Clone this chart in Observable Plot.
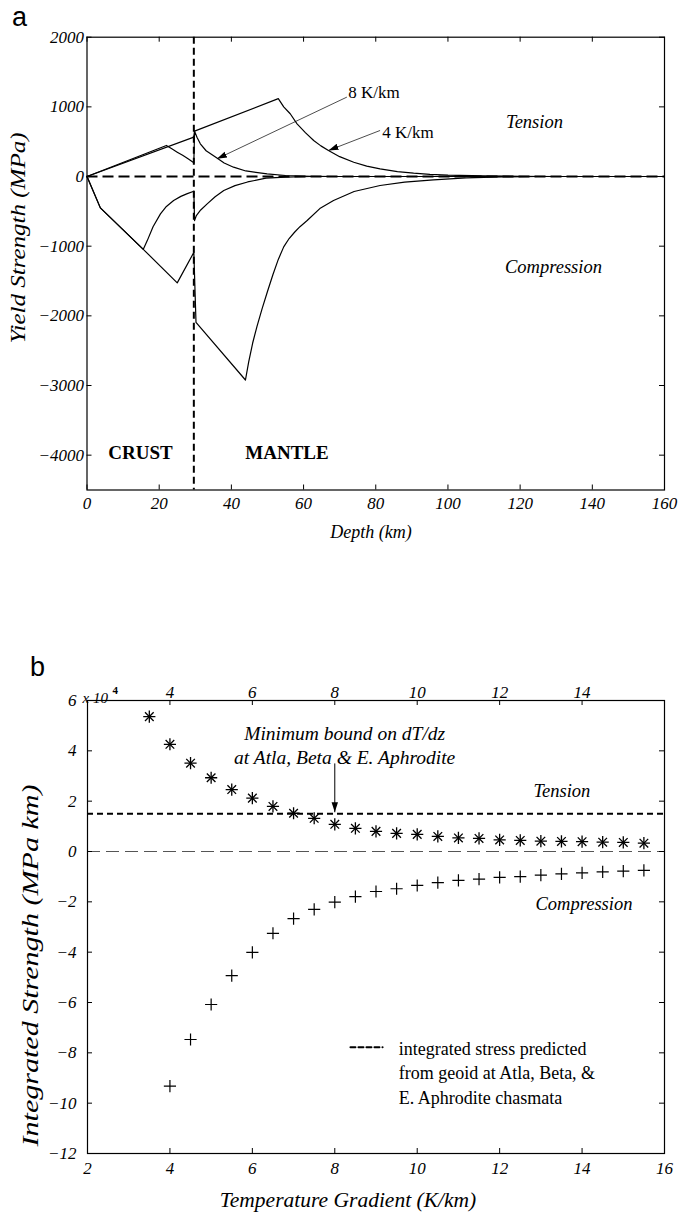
<!DOCTYPE html>
<html><head><meta charset="utf-8">
<script src="https://cdn.jsdelivr.net/npm/d3@7"></script>
<script src="https://cdn.jsdelivr.net/npm/@observablehq/plot@0.6"></script>
<style>
body{margin:0;background:#fff;}
#wrap{position:relative;width:680px;height:1216px;overflow:hidden;background:#fff;}
.panel{position:absolute;left:0;z-index:1;}
.panel svg text{font-family:"Liberation Serif","Times New Roman",serif;}
.lab{position:absolute;z-index:5;font-family:"Liberation Sans",Arial,sans-serif;font-size:27px;line-height:1;color:#000;}
</style></head><body>
<div id="wrap">
<div id="pa" class="panel" style="top:0"></div>
<div id="pb" class="panel" style="top:600px"></div>
<div class="lab" style="left:12px;top:4px">a</div>
<div class="lab" style="left:30px;top:654px">b</div>
</div>
<script>
// ---------- Panel a data ----------
const depthTicks = [0, 20, 40, 60, 80, 100, 120, 140, 160];
const strengthTicks = [-4000, -3000, -2000, -1000, 0, 1000, 2000];
const mohoDepth = 29.6;

const tension8Depth    = [0, 22, 23.5, 25, 26.5, 28, 29.6, 29.8, 30.5, 31.4, 33, 36, 38, 40.6, 44, 49.9, 55, 62, 70, 160];
const tension8Strength = [0, 446, 397, 350, 305, 255, 197, 652, 560, 470, 370, 265, 195, 134, 80, 39, 15, 4, 0, 0];

const tension4Depth    = [0, 29.6, 29.8, 53, 54.5, 56.3, 58.2, 60.5, 62.8, 64.8, 66.9, 70, 73.9, 77.5, 81.2, 86, 90.5, 95, 100, 110, 120, 130, 160];
const tension4Strength = [0, 566, 652, 1118, 1000, 901, 757, 630, 517, 440, 374, 285, 205, 150, 110, 70, 48, 32, 20, 8, 3, 0, 0];

const compression4Depth    = [0, 3.7, 15.6, 25, 29.6, 30.2, 43.9, 44.8, 45.9, 47.1, 48.5, 50, 51.5, 53, 54.5, 56, 57.5, 59, 61, 64.5, 68.3, 74, 81.2, 88, 96, 105, 115, 125, 160];
const compression4Strength = [0, -450, -1045, -1527, -1089, -2094, -2921, -2660, -2390, -2150, -1900, -1650, -1410, -1190, -1010, -890, -800, -720, -632, -460, -345, -215, -129, -80, -47, -18, -5, 0, 0];

const compression8Depth    = [0, 3.7, 15.6, 16.7, 18.3, 20.35, 22, 24, 26, 27.8, 29.6, 29.8, 30.3, 31.5, 33.3, 35.5, 37.9, 41, 44.5, 49.6, 55, 62, 160];
const compression8Strength = [0, -450, -1045, -920, -720, -536, -430, -345, -285, -245, -211, -633, -560, -480, -392, -290, -201, -130, -78, -24, -8, 0, 0];

const curveLabels = ["8 K/km", "4 K/km"];
const curveLabelDepth = [72.4, 81.8];
const curveLabelStrength = [1207, 632];
const arrowFromDepth = [72.0, 81.2];
const arrowFromStrength = [1140, 661];
const arrowToDepth = [36.0, 66.9];
const arrowToStrength = [254, 374];

const regimeLabels = ["Tension", "Compression"];
const regimeDepth = [116.1, 115.8];
const regimeStrength = [776, -1293];

const layerLabels = ["CRUST", "MANTLE"];
const layerDepth = [14.8, 55.4];
const layerStrength = [-3966, -3966];

// ---------- Panel b data ----------
const gradTicks = [2, 4, 6, 8, 10, 12, 14, 16];
const gradTopTicks = [4, 6, 8, 10, 12, 14];
const intTicks = [-12, -10, -8, -6, -4, -2, 0, 2, 4, 6];

const tensionGradient = [3.5, 4, 4.5, 5, 5.5, 6, 6.5, 7, 7.5, 8, 8.5, 9, 9.5, 10, 10.5, 11, 11.5, 12, 12.5, 13, 13.5, 14, 14.5, 15, 15.5];
const tensionIntegrated = [5.36, 4.26, 3.51, 2.93, 2.46, 2.12, 1.79, 1.52, 1.32, 1.08, 0.92, 0.80, 0.72, 0.68, 0.60, 0.54, 0.52, 0.46, 0.44, 0.41, 0.40, 0.39, 0.37, 0.36, 0.33];

const compressionGradient = [4, 4.5, 5, 5.5, 6, 6.5, 7, 7.5, 8, 8.5, 9, 9.5, 10, 10.5, 11, 11.5, 12, 12.5, 13, 13.5, 14, 14.5, 15, 15.5];
const compressionIntegrated = [-9.32, -7.47, -6.08, -4.93, -4.01, -3.25, -2.67, -2.30, -2.01, -1.79, -1.59, -1.48, -1.35, -1.24, -1.15, -1.10, -1.03, -1.00, -0.94, -0.89, -0.85, -0.81, -0.78, -0.75];

const geoidStress = [1.5];
const boundGradient = [8];
const boundArrowFrom = [3.5];
const boundArrowTo = [1.56];
const boundText = ["Minimum bound on dT/dz\nat Atla, Beta & E. Aphrodite"];
const boundTextPos = [8.24, 4.27];
const regimeLabelsB = ["Tension", "Compression"];
const regimeGradB = [12.82, 12.87];
const regimeIntB = [2.42, -2.07];
const legendDashGrad = [8.38, 9.16];
const legendDashInt = [-7.78, -7.78];
const legendText = ["integrated stress predicted\nfrom geoid at Atla, Beta, &\nE. Aphrodite chasmata"];
const legendTextPos = [9.55, -8.74];

// ---------- helpers ----------
const FONT = '"Liberation Serif", "Times New Roman", serif';
const fmt = d => d < 0 ? "\u2212" + Math.abs(d) : String(d);
const zip = (xs, ys, name) => xs.map((x, i) => ({x, y: ys[i], name}));
function filledHead(size) {
  return (color) => {
    const m = d3.create("svg:marker")
      .attr("viewBox", `${-size} ${-size/2} ${size} ${size}`)
      .attr("markerWidth", size).attr("markerHeight", size)
      .attr("markerUnits", "userSpaceOnUse")
      .attr("orient", "auto").attr("refX", 0).attr("refY", 0)
      .attr("fill", "black").attr("stroke", "none");
    m.append("path").attr("d", `M${-size},${-size*0.32}L0,0L${-size},${size*0.32}Z`);
    return m.node();
  };
}
// stretch a rotated title along its length (start-anchored)
function stretch(svg, content, len) {
  d3.select(svg).selectAll("text").filter(function(){ return this.textContent === content; })
    .attr("text-anchor", "start")
    .attr("textLength", len).attr("lengthAdjust", "spacingAndGlyphs");
}

// ---------- Panel a ----------
const aW = 680, aH = 560, aTop = 36.7, aBottom = 489.5, aLeft = 86.5, aRight = 664;
const aInnerH = aBottom - aTop, aInnerW = aRight - aLeft;
const curvesA = [
  ...zip(tension8Depth, tension8Strength, "t8"),
  ...zip(tension4Depth, tension4Strength, "t4"),
  ...zip(compression4Depth, compression4Strength, "c4"),
  ...zip(compression8Depth, compression8Strength, "c8")
];
const svgA = Plot.plot({
  width: aW, height: aH,
  marginTop: aTop, marginBottom: aH - aBottom, marginLeft: aLeft, marginRight: aW - aRight,
  x: {domain: [0, 160]},
  y: {domain: [-4500, 2000]},
  style: {fontFamily: FONT, fontSize: "17px", fontStyle: "italic", color: "black", background: "white", overflow: "visible"},
  marks: [
    Plot.line(curvesA, {x: "x", y: "y", z: "name", stroke: "black", strokeWidth: 1.2}),
    Plot.ruleY([0], {stroke: "black", strokeWidth: 2.2, strokeDasharray: "11,5"}),
    Plot.ruleX([mohoDepth], {stroke: "black", strokeWidth: 2, strokeDasharray: "7,4"}),
    Plot.link(curveLabels, {x1: (d, i) => arrowFromDepth[i], y1: (d, i) => arrowFromStrength[i], x2: (d, i) => arrowToDepth[i], y2: (d, i) => arrowToStrength[i], stroke: "black", strokeWidth: 0.7, markerEnd: filledHead(10)}),
    Plot.text(curveLabels, {x: (d, i) => curveLabelDepth[i], y: (d, i) => curveLabelStrength[i], text: d => d, textAnchor: "start", fontStyle: "normal", fontSize: 17}),
    Plot.text(regimeLabels, {x: (d, i) => regimeDepth[i], y: (d, i) => regimeStrength[i], text: d => d, textAnchor: "start", fontSize: 18.5}),
    Plot.text(layerLabels, {x: (d, i) => layerDepth[i], y: (d, i) => layerStrength[i], text: d => d, fontStyle: "normal", fontWeight: "bold", fontSize: 19}),
    Plot.frame({stroke: "black", strokeWidth: 1.2}),
    Plot.tickX(depthTicks, {x: d => d, insetTop: aInnerH - 5, stroke: "black"}),
    Plot.tickX(depthTicks, {x: d => d, insetBottom: aInnerH - 5, stroke: "black"}),
    Plot.tickY(strengthTicks, {y: d => d, insetRight: aInnerW - 5, stroke: "black"}),
    Plot.tickY(strengthTicks, {y: d => d, insetLeft: aInnerW - 5, stroke: "black"}),
    Plot.axisX(depthTicks, {anchor: "bottom", tickSize: 0, tickPadding: 7, tickFormat: fmt, label: null}),
    Plot.axisY(strengthTicks, {anchor: "left", tickSize: 0, tickPadding: 3, tickFormat: fmt, label: null}),
    Plot.text(["Depth (km)"], {frameAnchor: "bottom", text: d => d, dx: 370.5 - (aLeft + aRight) / 2, dy: 48, fontSize: 18}),
    Plot.text(["Yield Strength (MPa)"], {frameAnchor: "left", text: d => d, rotate: -90, dx: 18 - aLeft, dy: 343 - (aTop + aBottom) / 2, fontSize: 21})
  ]
});
stretch(svgA, "Yield Strength (MPa)", 211);
document.getElementById("pa").appendChild(svgA);

// ---------- Panel b ----------
const bW = 680, bH = 616, bTop = 100, bBottom = 553, bLeft = 87, bRight = 664;
const bInnerH = bBottom - bTop, bInnerW = bRight - bLeft;
const svgB = Plot.plot({
  width: bW, height: bH,
  marginTop: bTop, marginBottom: bH - bBottom, marginLeft: bLeft, marginRight: bW - bRight,
  x: {domain: [2, 16]},
  y: {domain: [-12, 6]},
  style: {fontFamily: FONT, fontSize: "17px", fontStyle: "italic", color: "black", background: "white", overflow: "visible"},
  marks: [
    Plot.ruleY([0], {stroke: "#555", strokeWidth: 1, strokeDasharray: "13,6"}),
    Plot.ruleY(geoidStress, {stroke: "black", strokeWidth: 2, strokeDasharray: "6,4"}),
    Plot.dot(tensionGradient, {x: d => d, y: (d, i) => tensionIntegrated[i], symbol: "plus", r: 4, stroke: "black", strokeWidth: 1.3}),
    Plot.dot(tensionGradient, {x: d => d, y: (d, i) => tensionIntegrated[i], symbol: "times", r: 4, stroke: "black", strokeWidth: 1.3}),
    Plot.dot(compressionGradient, {x: d => d, y: (d, i) => compressionIntegrated[i], symbol: "plus", r: 4, stroke: "black", strokeWidth: 1.2}),
    Plot.link(boundGradient, {x1: d => d, x2: d => d, y1: boundArrowFrom[0], y2: boundArrowTo[0], stroke: "black", strokeWidth: 1, markerEnd: filledHead(10)}),
    Plot.text(boundText, {x: boundTextPos[0], y: boundTextPos[1], text: d => d, fontSize: 19.5, lineHeight: 1.28}),
    Plot.text(regimeLabelsB, {x: (d, i) => regimeGradB[i], y: (d, i) => regimeIntB[i], text: d => d, textAnchor: "start", fontSize: 18.5}),
    Plot.line(legendDashGrad, {x: d => d, y: (d, i) => legendDashInt[i], stroke: "black", strokeWidth: 2, strokeDasharray: "5,3"}),
    Plot.text(legendText, {x: legendTextPos[0], y: legendTextPos[1], text: d => d, textAnchor: "start", fontStyle: "normal", fontSize: 18, lineHeight: 1.35}),
    Plot.frame({stroke: "black", strokeWidth: 1.2}),
    Plot.tickX(gradTicks, {x: d => d, insetTop: bInnerH - 5, stroke: "black"}),
    Plot.tickX(gradTicks, {x: d => d, insetBottom: bInnerH - 5, stroke: "black"}),
    Plot.tickY(intTicks, {y: d => d, insetRight: bInnerW - 5, stroke: "black"}),
    Plot.tickY(intTicks, {y: d => d, insetLeft: bInnerW - 5, stroke: "black"}),
    Plot.axisX(gradTicks, {anchor: "bottom", tickSize: 0, tickPadding: 8, tickFormat: fmt, label: null}),
    Plot.axisX(gradTopTicks, {anchor: "top", tickSize: 0, tickPadding: 3, tickFormat: fmt, label: null}),
    Plot.axisY(intTicks, {anchor: "left", tickSize: 0, tickPadding: 11, tickFormat: fmt, label: null}),
    Plot.text(["x 10"], {frameAnchor: "top-left", text: d => d, textAnchor: "start", dx: -5, dy: -8, fontSize: 15}),
    Plot.text(["4"], {frameAnchor: "top-left", text: d => d, textAnchor: "start", dx: 25, dy: -14, fontSize: 11, fontStyle: "normal", fontWeight: "bold"}),
    Plot.text(["Temperature Gradient (K/km)"], {frameAnchor: "bottom", text: d => d, dx: 347.5 - (bLeft + bRight) / 2, dy: 53, fontSize: 21.5}),
    Plot.text(["Integrated Strength (MPa km)"], {frameAnchor: "left", text: d => d, rotate: -90, dx: 30 - bLeft, dy: 1146 - 600 - (bTop + bBottom) / 2, fontSize: 23})
  ]
});
stretch(svgB, "Integrated Strength (MPa km)", 362);
document.getElementById("pb").appendChild(svgB);
</script>
</body></html>
